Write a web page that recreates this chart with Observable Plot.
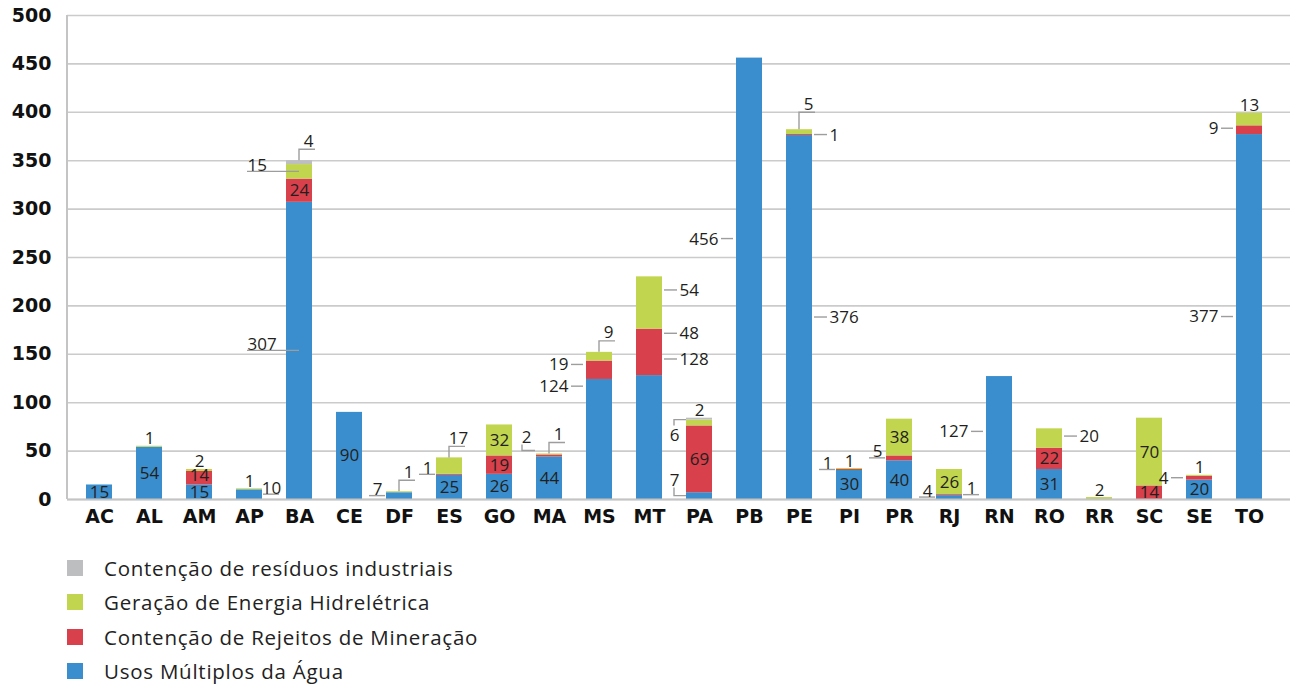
<!DOCTYPE html>
<html><head><meta charset="utf-8">
<script src="https://cdn.jsdelivr.net/npm/d3@7"></script>
<script src="https://cdn.jsdelivr.net/npm/@observablehq/plot@0.6"></script>
<style>
body{margin:0;background:#fff;}
#chart{width:1290px;position:relative;}
#chart svg{display:block;}
#chart svg g[aria-label^="y-axis"] text{font:bold 19px "DejaVu Sans";fill:#111;}
#chart svg g[aria-label^="x-axis"] text{font:bold 19px "DejaVu Sans";fill:#111;}
.legend{margin-top:11px;}
.legend .row{display:flex;align-items:center;height:34.3px;padding-left:67px;font:400 20.5px "Open Sans";color:#222;letter-spacing:0.75px;}
.legend .sw{width:16px;height:16px;margin-right:21px;flex:none;}
</style></head>
<body>
<div id="chart"></div>
<script>
// ---- data ----
const states = ["AC","AL","AM","AP","BA","CE","DF","ES","GO","MA","MS","MT","PA","PB","PE","PI","PR","RJ","RN","RO","RR","SC","SE","TO"];
const usosMultiplos = [15,54,15,10,307,90,7,25,26,44,124,128,7,456,376,30,40,4,127,31,0,0,20,377];
const rejeitosMineracao = [0,0,14,0,24,0,0,1,19,2,19,48,69,0,1,1,5,1,0,22,0,14,4,9];
const energiaHidreletrica = [0,1,2,1,15,0,1,17,32,1,9,54,6,0,5,1,38,26,0,20,2,70,1,13];
const residuosIndustriais = [0,0,0,0,4,0,0,0,0,0,0,0,2,0,0,0,0,0,0,0,0,0,0,0];
const seriesNames = ["Usos Múltiplos da Água","Contenção de Rejeitos de Mineração","Geração de Energia Hidrelétrica","Contenção de resíduos industriais"];
const seriesKeys = ["U","R","H","I"];
const seriesColors = ["#3a8ecd","#d8414b","#c1d54f","#bdbec0"];
const yTicks = [0,50,100,150,200,250,300,350,400,450,500];

// annotation layout: [state, series, kind, (fraction along segment)]
const labelSpec = [
 ["AC","U","in"],
 ["AL","U","in"],["AL","H","top"],
 ["AM","U","in",0.45],["AM","R","in",0.72],["AM","H","top"],
 ["AP","U","ur"],["AP","H","top"],
 ["BA","U","ulc"],["BA","R","in"],["BA","H","ulc"],["BA","I","br"],
 ["CE","U","in"],
 ["DF","U","ul"],["DF","H","br"],
 ["ES","U","in"],["ES","R","ul"],["ES","H","br"],
 ["GO","U","in"],["GO","R","in"],["GO","H","in"],
 ["MA","U","in"],["MA","R","bld"],["MA","H","br"],
 ["MS","U","l",0.94],["MS","R","l",0.79],["MS","H","br"],
 ["MT","U","r",1.13],["MT","R","r",0.9],["MT","H","r",0.74],
 ["PA","U","bll"],["PA","R","in"],["PA","H","bul"],["PA","I","top"],
 ["PB","U","l",0.59],
 ["PE","U","r"],["PE","R","r"],["PE","H","brh"],
 ["PI","U","in"],["PI","R","ul"],["PI","H","top"],
 ["PR","U","in"],["PR","R","ul"],["PR","H","in"],
 ["RJ","U","ul"],["RJ","R","ur"],["RJ","H","in"],
 ["RN","U","l",0.55],
 ["RO","U","in"],["RO","R","in"],["RO","H","r",0.6],
 ["RR","H","top"],
 ["SC","R","in"],["SC","H","in"],
 ["SE","U","in"],["SE","R","l"],["SE","H","top"],
 ["TO","U","l"],["TO","R","l",0.67],["TO","H","top"]
];

// ---- build tables ----
const valuesByKey = {U: usosMultiplos, R: rejeitosMineracao, H: energiaHidreletrica, I: residuosIndustriais};
const rows = [];
const stackPos = {};
states.forEach((s, i) => {
  let acc = 0;
  seriesKeys.forEach((k, j) => {
    const v = valuesByKey[k][i];
    stackPos[s + k] = {y0: acc, y1: acc + v, v};
    acc += v;
    if (v > 0) rows.push({state: s, series: seriesNames[j], value: v});
  });
});
const labels = labelSpec.map(([state, key, kind, at]) => {
  const p = stackPos[state + key];
  const f = at == null ? 0.5 : at;
  return {state, kind, text: String(p.v), y0: p.y0, y1: p.y1, ym: p.y0 + f * (p.y1 - p.y0)};
});
const K = k => labels.filter(d => d.kind === k);

const txt = {fontFamily: "Open Sans", fontWeight: 400, fontSize: 17, fill: "#231f20"};
const HW = 13; // half bar width in px

function leaders(index, scales, values, dims) {
  const sx = scales.x, sy = scales.y;
  const bw = typeof sx.bandwidth === "function" ? sx.bandwidth() : sx.bandwidth;
  const g = d3.create("svg:g").attr("fill", "none").attr("stroke", "#9d9d9d").attr("stroke-width", 1.4);
  g.append("path").attr("stroke", "#c4c4c4").attr("stroke-width", 2)
    .attr("d", `M${dims.marginLeft},${dims.marginTop}V${dims.height - dims.marginBottom}`);
  for (const d of labels) {
    const x0 = sx(d.state), xc = x0 + bw / 2, x1 = x0 + bw;
    const y = sy(d.ym), yt = sy(d.y1);
    let p = null;
    switch (d.kind) {
      case "l": p = `M${x0-15},${y}H${x0-3}`; break;
      case "r": p = `M${x1+2},${y}H${x1+15}`; break;
      case "ul": p = `M${x0-17},${y}H${x0-1}`; break;
      case "ulc": p = `M${xc-52},${y}H${xc}`; break;
      case "ur": p = `M${x1+1},${y}H${x1+17}`; break;
      case "br": p = `M${xc},${yt}V${yt-11}H${xc+16}`; break;
      case "brh": p = `M${xc},${yt}V${yt-17}H${xc+16}`; break;
      case "bul": p = `M${x0},${yt}H${x0-12}V${yt+6}`; break;
      case "bll": p = `M${x0},${y}H${x0-12}V${y-8}`; break;
      case "bld": p = `M${x0-1},${yt-4}H${x0-14}V${yt-10}`; break;
    }
    if (p) g.append("path").attr("d", p);
  }
  return g.node();
}

const chart = Plot.plot({
  width: 1290,
  height: 540,
  marginLeft: 67,
  marginRight: 0,
  marginTop: 15,
  marginBottom: 41,
  x: {domain: states, paddingInner: 0.48, paddingOuter: 0.24, insetLeft: 6, insetRight: 15, tickSize: 0, tickPadding: 10, label: null},
  y: {domain: [0, 500], ticks: yTicks, tickSize: 0, tickPadding: 16, label: null},
  color: {domain: seriesNames, range: seriesColors},
  marks: [
    Plot.ruleY(yTicks, {stroke: "#cbcbcb", strokeWidth: 1.6}),
    Plot.barY(rows, {x: "state", y: "value", fill: "series", order: seriesNames}),
    Plot.ruleY([0], {stroke: "#c4c4c4", strokeWidth: 2}),
    leaders,
    Plot.text(K("in"), {x: "state", y: "ym", text: "text", ...txt}),
    Plot.text(K("top"), {x: "state", y: "y1", text: "text", lineAnchor: "bottom", dy: -2, ...txt}),
    Plot.text(K("l"), {x: "state", y: "ym", text: "text", textAnchor: "end", dx: -HW - 18, ...txt}),
    Plot.text(K("r"), {x: "state", y: "ym", text: "text", textAnchor: "start", dx: HW + 17, ...txt}),
    Plot.text(K("ul"), {x: "state", y: "ym", text: "text", lineAnchor: "bottom", dx: -HW - 9, dy: -1, ...txt}),
    Plot.text(K("ulc"), {x: "state", y: "ym", text: "text", textAnchor: "start", lineAnchor: "bottom", dx: -52, dy: -1, ...txt}),
    Plot.text(K("ur"), {x: "state", y: "ym", text: "text", lineAnchor: "bottom", dx: HW + 9, dy: -1, ...txt}),
    Plot.text(K("br"), {x: "state", y: "y1", text: "text", lineAnchor: "bottom", dx: 9, dy: -14, ...txt}),
    Plot.text(K("brh"), {x: "state", y: "y1", text: "text", lineAnchor: "bottom", dx: 9, dy: -20, ...txt}),
    Plot.text(K("bul"), {x: "state", y: "y1", text: "text", lineAnchor: "top", dx: -HW - 12, dy: 9, ...txt}),
    Plot.text(K("bll"), {x: "state", y: "ym", text: "text", lineAnchor: "bottom", dx: -HW - 12, dy: -10, ...txt}),
    Plot.text(K("bld"), {x: "state", y: "y1", text: "text", lineAnchor: "bottom", dx: -HW - 10, dy: -12, ...txt})
  ]
});
const host = document.getElementById("chart");
host.appendChild(chart);

// legend
const legend = d3.select(host).append("div").attr("class", "legend");
[3, 2, 1, 0].forEach(j => {
  const r = legend.append("div").attr("class", "row");
  r.append("div").attr("class", "sw").style("background", seriesColors[j]);
  r.append("span").text(seriesNames[j]);
});
</script>
</body></html>
